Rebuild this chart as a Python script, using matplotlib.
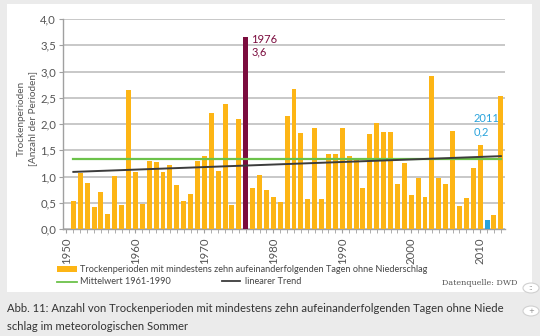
import matplotlib
matplotlib.use("Agg")
import matplotlib.pyplot as plt
import numpy as np
from matplotlib.patches import Rectangle, Circle
from matplotlib.lines import Line2D

# data
years = list(range(1951, 2014))
perioden = [0.53, 1.06, 0.87, 0.41, 0.71, 0.28, 1.01, 0.46, 2.64, 1.09,
            0.48, 1.30, 1.28, 1.09, 1.22, 0.84, 0.53, 0.67, 1.30, 1.39,
            2.20, 1.10, 2.39, 0.45, 2.09, 3.65, 0.78, 1.03, 0.75, 0.61,
            0.51, 2.16, 2.66, 1.83, 0.58, 1.93, 0.57, 1.42, 1.43, 1.93,
            1.40, 1.32, 0.79, 1.81, 2.01, 1.84, 1.84, 0.85, 1.26, 0.64,
            0.98, 0.61, 2.92, 0.98, 0.86, 1.87, 0.44, 0.59, 1.16, 1.60,
            0.17, 0.27, 2.53]
yticks = [0.0, 0.5, 1.0, 1.5, 2.0, 2.5, 3.0, 3.5, 4.0]
decades = [1950, 1960, 1970, 1980, 1990, 2000, 2010]
highlight = {1976: ("#7b0c3e", "1976\n3,6"), 2011: ("#2aa3dc", "2011\n0,2")}

ORANGE = "#fdb515"
W, H = 540, 336
FONT = "Lato"


def fx(px):
    return px / W


def fy(py):
    return 1 - py / H


fig = plt.figure(figsize=(W / 100, H / 100), dpi=100)
fig.patch.set_facecolor("#ebebeb")
fig.patches.append(Rectangle((fx(7), fy(292)), fx(532) - fx(7), fy(4) - fy(292),
                             transform=fig.transFigure, facecolor="white",
                             edgecolor="none", zorder=-5))

ax = fig.add_axes([fx(63), fy(229), fx(505) - fx(63), fy(19) - fy(229)])
ax.set_facecolor("none")
ax.set_zorder(2)

colors = [highlight[y][0] if y in highlight else ORANGE for y in years]
ax.bar(years, perioden, width=0.72, color=colors, zorder=3)

# Mittelwert 1961-1990
ref = [v for y, v in zip(years, perioden) if 1961 <= y <= 1990]
mittel = np.mean(ref)
ax.plot([years[0], years[-1]], [mittel, mittel], color="#6cc24a", lw=1.6, zorder=4)

# linearer Trend
k, d = np.polyfit(years, perioden, 1)
xs = np.array([years[0], years[-1]])
ax.plot(xs, k * xs + d, color="#3c3c3c", lw=1.4, zorder=5)

for y, (c, txt) in highlight.items():
    ty = 3.27 if y == 1976 else 1.75
    ax.text(y + 0.8 if y == 1976 else y - 2.0, ty, txt, color=c, fontsize=8,
            family=FONT, va="bottom", ha="left", linespacing=1.2, zorder=6)

ax.set_xlim(1949.5, 2013.6)
ax.set_ylim(0, 4.0)
ax.set_yticks(yticks)
ax.set_yticklabels([f"{t:.1f}".replace(".", ",") for t in yticks])
ax.set_xticks(decades)
ax.set_xticklabels([str(d) for d in decades], rotation=90)
ax.set_xticks(range(1950, 2014), minor=True)
ax.grid(axis="y", color="#c4c4c4", lw=1.3, zorder=1)
for s in ["top", "right"]:
    ax.spines[s].set_visible(False)
for s in ["left", "bottom"]:
    ax.spines[s].set_color("#a0a0a0")
    ax.spines[s].set_linewidth(1.0)
ax.tick_params(axis="y", length=3, color="#a0a0a0", labelsize=8.2,
               labelcolor="#555555", pad=2)
ax.tick_params(axis="x", which="both", length=3, color="#a0a0a0", labelsize=8.2,
               labelcolor="#555555", pad=3)
for lab in ax.get_xticklabels() + ax.get_yticklabels():
    lab.set_family(FONT)

fig.text(fx(27), fy(118), "Trockenperioden\n[Anzahl der Perioden]", rotation=90,
         ha="center", va="center", fontsize=7.2, family=FONT, color="#555555",
         linespacing=1.2)

# legend
fig.patches.append(Rectangle((fx(57), fy(271.5)), fx(20), fy(266) - fy(271.5),
                             transform=fig.transFigure, facecolor=ORANGE,
                             edgecolor="none"))
fig.text(fx(80), fy(269), "Trockenperioden mit mindestens zehn aufeinanderfolgenden "
         "Tagen ohne Niederschlag", fontsize=6.6, family=FONT, color="#444444",
         va="center")
fig.lines.append(Line2D([fx(57), fx(77)], [fy(282), fy(282)], transform=fig.transFigure,
                        color="#6cc24a", lw=1.3))
fig.text(fx(80), fy(282), "Mittelwert 1961-1990", fontsize=6.6, family=FONT,
         color="#444444", va="center")
fig.lines.append(Line2D([fx(222), fx(240)], [fy(281), fy(281)], transform=fig.transFigure,
                        color="#3c3c3c", lw=1.3))
fig.text(fx(245), fy(281), "linearer Trend", fontsize=6.6, family=FONT,
         color="#444444", va="center")
fig.text(fx(442), fy(283), "Datenquelle: DWD", fontsize=5.8, family="DejaVu Serif",
         color="#555555", va="center")

# caption
fig.text(fx(7), fy(309), "Abb. 11: Anzahl von Trockenperioden mit mindestens zehn "
         "aufeinanderfolgenden Tagen ohne Niede", fontsize=8.1, family=FONT,
         color="#333333", va="center")
fig.text(fx(7), fy(327), "schlag im meteorologischen Sommer", fontsize=8.1, family=FONT,
         color="#333333", va="center")

# small round buttons at the right edge
for cy, sym in [(288, "::"), (311, "+")]:
    fig.patches.append(Circle((fx(531), fy(cy)), 8 / W, transform=fig.transFigure,
                              facecolor="white", edgecolor="#d0d0d0", lw=0.8))
    fig.text(fx(531), fy(cy), sym, fontsize=5, color="#888888", ha="center",
             va="center")

fig.savefig("out.png", dpi=100, facecolor=fig.get_facecolor())
